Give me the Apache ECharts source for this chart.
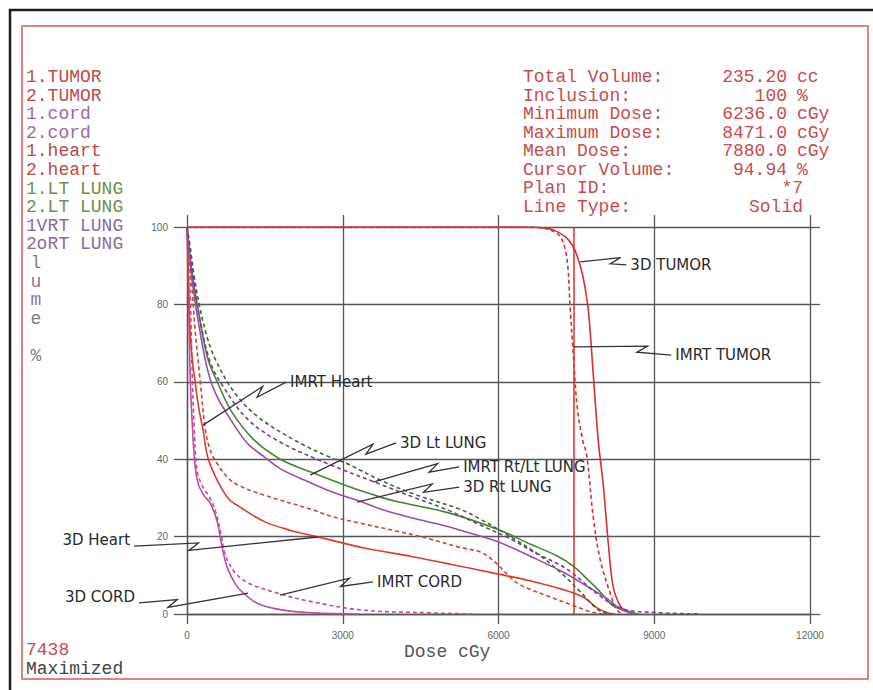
<!DOCTYPE html>
<html>
<head>
<meta charset="utf-8">
<script src="https://cdn.jsdelivr.net/npm/echarts@6/dist/echarts.min.js"></script>
</head>
<body style="margin:0;background:#fff">
<div id="dvhChart" style="width:873px;height:690px"></div>
<script>
// DVH curves, [dose cGy, volume %]
var tumor3d = [[0,100],[6500,100],[6900,99.7],[7100,99],[7300,97.3],[7440,94.9],[7540,91.5],[7630,87],[7730,78.5],[7830,61],[7920,45],[8020,33],[8120,17.5],[8210,7],[8350,2],[8500,0.5],[8650,0]];
var tumorImrt = [[0,100],[6600,100],[6950,99.4],[7190,97.5],[7320,91.5],[7380,79],[7445,66],[7520,53],[7620,45],[7700,41],[7830,24.5],[7960,14],[8150,5.4],[8280,1],[8400,0]];
var cord3d = [[0,100],[15,96],[35,80],[60,62],[98,50],[150,39],[220,33.5],[320,30.8],[450,28.6],[580,24],[676,17.3],[773,12.1],[900,8.5],[1023,6.2],[1350,2.8],[1850,1],[2430,0.3],[3300,0]];
var cordImrt = [[0,100],[40,95],[70,80],[100,62],[140,48],[195,37],[300,33],[420,30.5],[541,26.9],[638,21.7],[773,14],[1081,8.8],[1736,5.4],[2430,3.1],[3392,1],[4683,0.3],[5500,0]];
var heart3d = [[0,100],[20,90],[40,80],[60,73],[100,66],[156,60],[230,53],[310,47.5],[400,40.5],[580,34.6],[800,29.8],[1000,27.8],[1500,23.8],[2000,21.6],[2500,20],[3400,17.1],[4350,14.8],[5100,12.8],[6000,10.3],[6600,8.6],[7250,6.3],[7630,4.4],[7900,1.6],[8100,0.3],[8250,0]];
var heartImrt = [[0,100],[50,92],[100,84],[156,73.4],[252,60.5],[349,48],[420,43.5],[503,40.6],[773,35.4],[1000,33.2],[1466,30.8],[2430,26.9],[2757,25.3],[3392,23.3],[4047,21.4],[4700,19.3],[5260,17.2],[5650,16],[5900,13.8],[6285,8.8],[6500,7],[6995,4.4],[7440,2.2],[7770,0.6],[8000,0]];
var ltLung3d = [[0,100],[40,95],[100,88],[210,79],[400,66],[600,59.5],[850,52.5],[1290,45],[1800,40],[2400,36.6],[3100,33],[3730,30.2],[4060,29],[5020,26.2],[5980,21.9],[6620,18],[7130,15],[7440,12.4],[7710,9],[7960,5.7],[8210,2.1],[8540,0.5],[8700,0]];
var ltLungImrt = [[0,100],[60,95],[130,88],[250,79],[400,71],[550,65.7],[900,57.5],[1360,51],[2130,44.5],[2757,40.5],[3090,38.8],[3720,34.6],[4370,31],[5270,27],[5650,24.5],[6290,19.5],[6810,15],[7190,10.8],[7580,5.7],[7830,2.1],[8000,0.5],[8200,0]];
var rtLung3d = [[0,100],[40,94],[100,86],[200,77],[380,64],[550,57],[850,50],[1170,44],[1500,40.5],[1800,37.5],[2400,33.8],[2800,31.5],[3400,28.8],[3800,26.8],[4400,24.6],[5000,22.7],[5300,21.5],[6000,18.6],[6600,15],[7250,10.8],[7700,7.2],[8100,3.9],[8350,1.3],[8600,0]];
var rtLungImrt = [[0,100],[60,94],[130,86],[250,76],[450,65],[710,58.5],[1170,50.3],[1810,44.3],[2770,38.5],[3730,33.5],[4400,30],[5000,27],[5650,23],[6290,19],[6680,16],[7320,11.6],[7960,4.6],[8400,1.3],[9000,0.4],[9880,0]];

var seriesNames = ['1.TUMOR', '2.TUMOR', '1.cord', '2.cord', '1.heart', '2.heart', '1.LT LUNG', '2.LT LUNG', '1.RT LUNG', '2.RT LUNG'];
var seriesData = [tumor3d, tumorImrt, cord3d, cordImrt, heart3d, heartImrt, ltLung3d, ltLungImrt, rtLung3d, rtLungImrt];
var lineColors = ['#d8302a', '#d8302a', '#c548a8', '#c548a8', '#dc3c2c', '#dc3c2c', '#3f8a2e', '#3d6a2e', '#9a4cb5', '#7a3c90'];
var nameColors = ['#c24a48', '#c24a48', '#a8649a', '#a8649a', '#bb4a48', '#bb4a48', '#6f9048', '#6f9048', '#8c6aa0', '#8c6aa0'];

var cursorDose = 7440;
var statLabels = ['Total Volume:', 'Inclusion:', 'Minimum Dose:', 'Maximum Dose:', 'Mean Dose:', 'Cursor Volume:', 'Plan ID:', 'Line Type:'];
var statValues = ['235.20', '100', '6236.0', '8471.0', '7880.0', '94.94', '*7', 'Solid'];
var statUnits = ['cc', '%', 'cGy', 'cGy', 'cGy', '%', '', ''];

// handwritten notes: text anchor and arrow tip in data units
var notes = [
  {text: '3D TUMOR', at: [8540, 90.2], tip: [7574, 91]},
  {text: 'IMRT TUMOR', at: [9405, 66.9], tip: [7439, 69]},
  {text: 'IMRT Heart', at: [1986, 59.9], tip: [310, 48.8]},
  {text: '3D Lt LUNG', at: [4104, 44.2], tip: [2372, 35.9]},
  {text: 'IMRT Rt/Lt LUNG', at: [5320, 38], tip: [3584, 34.1]},
  {text: '3D Rt LUNG', at: [5320, 32.8], tip: [3276, 28.9]},
  {text: 'IMRT CORD', at: [3661, 8.3], tip: [1793, 4.9]},
  {text: '3D Heart', at: [-1096, 19.1], tip: [2526, 19.9], right: true},
  {text: '3D CORD', at: [-1000, 4.4], tip: [1177, 5.4], right: true}
];

var chart = echarts.init(document.getElementById('dvhChart'), null, {renderer: 'svg'});

var gridColor = '#555';
var mono = '"Liberation Mono", "DejaVu Sans Mono", monospace';

var series = seriesNames.map(function (name, i) {
  var s = {
    name: name,
    type: 'line',
    data: seriesData[i],
    showSymbol: false,
    smooth: 0.35,
    silent: true,
    z: 3,
    lineStyle: {color: lineColors[i], width: 1.6, type: i % 2 ? [4, 3] : 'solid'},
    itemStyle: {color: lineColors[i]}
  };
  if (i === 0) {
    s.markLine = {
      silent: true,
      symbol: 'none',
      label: {show: false},
      lineStyle: {color: '#d8302a', width: 1.5, type: 'solid'},
      data: [{xAxis: cursorDose}]
    };
  }
  return s;
});

function axisX(pos, tickLen, showLabel) {
  return {
    type: 'value', position: pos, min: 0, max: 12000, interval: 3000,
    axisLine: {show: pos === 'bottom', onZero: false, lineStyle: {color: gridColor, width: 1.3}},
    axisTick: {show: true, length: tickLen, lineStyle: {color: gridColor, width: 1.3}},
    axisLabel: {show: showLabel, color: '#666', fontSize: 10, margin: 16, fontFamily: 'Liberation Sans',
      formatter: function (v) { return String(v); }},
    splitLine: {show: showLabel, lineStyle: {color: gridColor, width: 1.3}}
  };
}
function axisY(pos, tickLen, showLabel) {
  return {
    type: 'value', position: pos, min: 0, max: 100, interval: 20,
    axisLine: {show: pos === 'left', onZero: false, lineStyle: {color: gridColor, width: 1.3}},
    axisTick: {show: true, length: tickLen, lineStyle: {color: gridColor, width: 1.3}},
    axisLabel: {show: showLabel, color: '#666', fontSize: 10, margin: 19, fontFamily: 'Liberation Sans'},
    splitLine: {show: showLabel, lineStyle: {color: gridColor, width: 1.3}}
  };
}

chart.setOption({
  backgroundColor: '#fff',
  animation: false,
  grid: {left: 187, right: 63, top: 227, bottom: 76, containLabel: false, outerBoundsMode: 'none'},
  xAxis: [axisX('bottom', 10, true), axisX('top', 12, false)],
  yAxis: [axisY('left', 13, true), axisY('right', 10, false)],
  series: series
});

// text and frame overlay
var g = [];
g.push({type: 'rect', silent: true, shape: {x: 10, y: 10, width: 880, height: 700}, style: {fill: 'none', stroke: '#1e1e1e', lineWidth: 2.5}});
g.push({type: 'rect', silent: true, shape: {x: 22, y: 26, width: 846, height: 653}, style: {fill: 'none', stroke: '#d45a5a', lineWidth: 1.5}});

function txt(str, x, y, color, align, font) {
  return {type: 'text', silent: true, x: x, y: y, z: 10,
    style: {text: str, fill: color, font: font || ('18px ' + mono), textAlign: align || 'left', textVerticalAlign: 'middle'}};
}

var charW = 10.8;
var axisName = 'Volume %';
seriesNames.forEach(function (name, i) {
  var y = 77 + i * 18.6;
  if (i >= 8) {
    // the y axis name runs down the second column here, over the dot
    g.push(txt(name.charAt(0), 26, y, nameColors[i]));
    g.push(txt(name.slice(2), 26 + 2 * charW, y, nameColors[i]));
  } else {
    g.push(txt(name, 26, y, nameColors[i]));
  }
});
axisName.split('').forEach(function (ch, i) {
  if (ch !== ' ') g.push(txt(ch, i < 2 ? 42 : 36, 77 + (8 + i) * 18.6, i < 2 ? '#8c6aa0' : '#877a8c', 'center'));
});

statLabels.forEach(function (lab, i) {
  var y = 77 + i * 18.5;
  g.push(txt(lab, 523, y, '#c84c4c'));
  if (statUnits[i]) {
    g.push(txt(statValues[i], 787, y, '#c84c4c', 'right'));
    g.push(txt(statUnits[i], 797, y, '#c84c4c'));
  } else {
    g.push(txt(statValues[i], 803, y, '#c84c4c', 'right'));
  }
});

g.push(txt('Dose cGy', 404, 652, '#555'));
g.push(txt('7438', 26, 650, '#c84c4c'));
g.push(txt('Maximized', 26, 669, '#444'));

notes.forEach(function (n) {
  var p = chart.convertToPixel({xAxisIndex: 0, yAxisIndex: 0}, n.at);
  var t = chart.convertToPixel({xAxisIndex: 0, yAxisIndex: 0}, n.tip);
  g.push(txt(n.text, p[0], p[1], '#2a2a2a', n.right ? 'right' : 'left', '15px "DejaVu Sans", sans-serif'));
  var s = [p[0] + (n.right ? 4 : -4), p[1] + (n.right ? 6 : 0)];
  var dx = t[0] - s[0], dy = t[1] - s[1], L = Math.sqrt(dx * dx + dy * dy);
  var ux = dx / L, uy = dy / L, nx = -uy, ny = ux;
  var a = [s[0] + ux * L * 0.35, s[1] + uy * L * 0.35];
  var pts = [s, a, [a[0] - ux * 10 + nx * 7, a[1] - uy * 10 + ny * 7], t];
  g.push({type: 'polyline', silent: true, z: 9, shape: {points: pts}, style: {fill: 'none', stroke: '#333', lineWidth: 1.3}});
});

chart.setOption({graphic: g});
</script>
</body>
</html>
